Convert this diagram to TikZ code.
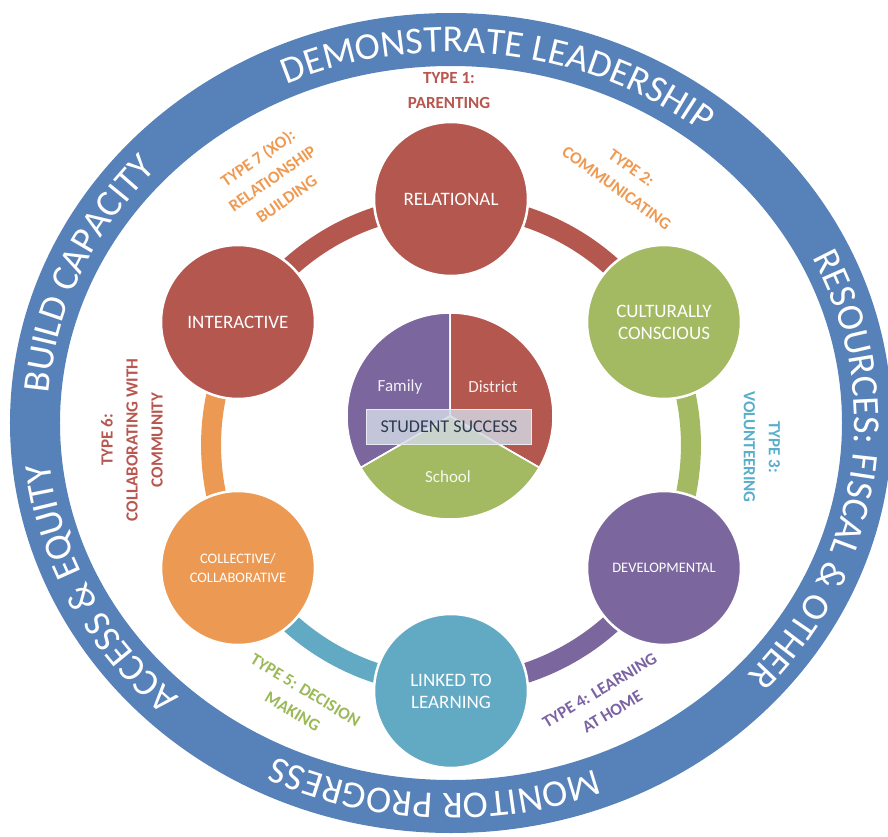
\documentclass[tikz,border=0pt]{standalone}
\usepackage{fontspec}
\setmainfont{Carlito}
\usetikzlibrary{decorations.text}
\pgfdeclarelayer{bg}
\pgfsetlayers{bg,main}
\definecolor{ringblue}{HTML}{5781B9}
\definecolor{cred}{HTML}{B3574F}
\definecolor{cgreen}{HTML}{A3B962}
\definecolor{cpurple}{HTML}{7B669E}
\definecolor{cteal}{HTML}{62A9C3}
\definecolor{corange}{HTML}{EC9954}
\definecolor{tred}{HTML}{B8564F}
\definecolor{torange}{HTML}{EF9A52}
\definecolor{tteal}{HTML}{58AECB}
\definecolor{tpurple}{HTML}{7A62A3}
\definecolor{tgreen}{HTML}{9BBA57}
\definecolor{boxfill}{HTML}{D3DAE5}
\definecolor{boxline}{HTML}{E8ECF2}
\definecolor{boxtext}{HTML}{2D3A4F}
\newcommand{\dgRing}{\fontsize{38}{40}\selectfont\color{white}}
\newcommand{\dgNode}{\fontsize{19}{22}\selectfont}
\newcommand{\dgSmallNode}{\fontsize{14.5}{19}\selectfont}
\newcommand{\dgType}{\fontsize{17}{25}\selectfont\bfseries}
\newcommand{\dgPie}{\fontsize{17}{20}\selectfont}
\begin{document}
\begin{tikzpicture}[x=1pt,y=1pt,
  ringtext/.style={decorate, decoration={text along path, text align=center, text={|\dgRing|#1}}},
  hexnode/.style={circle, minimum size=154pt, inner sep=0pt, draw=white, line width=2.5pt, text=white, align=center, font=\dgNode},
  band/.style={line width=20pt},
  typelabel/.style={align=center, font=\dgType, inner sep=0pt},
  pielabel/.style={font=\dgPie, text=white, text opacity=0.9, inner sep=0pt},
  slice/.style={draw=white, line width=1.5pt}
]
\useasboundingbox (-451,-413) rectangle (437,423);
\begin{pgfonlayer}{bg}
\fill[white] (-451,-413) rectangle (437,423);
\end{pgfonlayer}

% outer ring
\fill[ringblue, even odd rule] (0,0) ellipse[x radius=441pt, y radius=410pt]
  (0,0) ellipse[x radius=391pt, y radius=357pt];
\path[ringtext={DEMONSTRATE LEADERSHIP}] (132.5:403.5pt and 371pt) arc[start angle=132.5, end angle=32.5, x radius=403.5pt, y radius=371pt];
\path[ringtext={RESOURCES: FISCAL {\&} OTHER}] (42:403.5pt and 371pt) arc[start angle=42, end angle=-58, x radius=403.5pt, y radius=371pt];
\path[ringtext={MONITOR PROGRESS}] (-42.5:403.5pt and 371pt) arc[start angle=-42.5, end angle=-142.5, x radius=403.5pt, y radius=371pt];
\path[ringtext={ACCESS {\&} EQUITY}] (256:403.5pt and 371pt) arc[start angle=256, end angle=156, x radius=403.5pt, y radius=371pt];
\path[ringtext={BUILD CAPACITY}] (207:403.5pt and 371pt) arc[start angle=207, end angle=107, x radius=403.5pt, y radius=371pt];

% hexagon nodes
\node[hexnode, fill=cred] (rel) at (0,224) {RELATIONAL};
\node[hexnode, fill=cgreen] (cult) at (213,101) {CULTURALLY\\CONSCIOUS};
\node[hexnode, fill=cpurple, font=\dgSmallNode] (dev) at (213,-145) {DEVELOPMENTAL};
\node[hexnode, fill=cteal] (link) at (0,-268) {LINKED TO\\LEARNING};
\node[hexnode, fill=corange, font=\dgSmallNode] (coll) at (-213,-145) {COLLECTIVE/\\COLLABORATIVE};
\node[hexnode, fill=cred] (inter) at (-213,101) {INTERACTIVE};

% connecting bands
\begin{pgfonlayer}{bg}
\draw[band, cred] ([shift={(90:-6pt)}]rel.center) arc[start angle=90, delta angle=-60, radius=240pt];
\draw[band, cgreen] ([shift={(30:-6pt)}]cult.center) arc[start angle=30, delta angle=-60, radius=240pt];
\draw[band, cpurple] ([shift={(-30:-6pt)}]dev.center) arc[start angle=-30, delta angle=-60, radius=240pt];
\draw[band, cteal] ([shift={(-90:-6pt)}]link.center) arc[start angle=-90, delta angle=-60, radius=240pt];
\draw[band, corange] ([shift={(-150:-6pt)}]coll.center) arc[start angle=-150, delta angle=-60, radius=240pt];
\draw[band, cred] ([shift={(150:-6pt)}]inter.center) arc[start angle=150, delta angle=-60, radius=240pt];
\end{pgfonlayer}

% central pie
\coordinate (pc) at (-1,7);
\fill[slice, fill=cred] (pc) -- ++(90:103pt) arc[start angle=90, end angle=-30, radius=103pt] -- cycle;
\fill[slice, fill=cgreen] (pc) -- ++(-30:103pt) arc[start angle=-30, end angle=-150, radius=103pt] -- cycle;
\fill[slice, fill=cpurple] (pc) -- ++(90:103pt) arc[start angle=90, end angle=210, radius=103pt] -- cycle;
\draw[slice] (pc) -- ++(90:103pt) (pc) -- ++(-30:103pt) (pc) -- ++(210:103pt);
\node[pielabel] (family) at (-51,36) {Family};
\node[pielabel] (district) at (42,36) {District};
\node[pielabel] (school) at (-3,-54) {School};
\node[minimum width=165pt, minimum height=35pt, inner sep=0pt, fill=boxfill, fill opacity=0.82, draw=boxline, line width=1pt, text opacity=1, text=boxtext, font=\fontsize{18}{20}\selectfont] (succ) at (-2,-4) {STUDENT SUCCESS};

% type labels
\node[typelabel, text=tred] (t1) at (-2,332) {TYPE 1:\\PARENTING};
\node[typelabel, text=torange, rotate=-36] (t2) at (173,245) {TYPE 2:\\COMMUNICATING};
\node[typelabel, text=tteal, rotate=-90] (t3) at (311,-24) {TYPE 3:\\VOLUNTEERING};
\node[typelabel, text=tpurple, rotate=31] (t4) at (155,-278) {TYPE 4: LEARNING\\AT HOME};
\node[typelabel, text=tgreen, rotate=-31] (t5) at (-152,-278) {TYPE 5: DECISION\\MAKING};
\node[typelabel, text=tred, rotate=90] (t6) at (-319,-17) {TYPE 6:\\COLLABORATING WITH\\COMMUNITY};
\node[typelabel, text=torange, rotate=35] (t7) at (-179,245) {TYPE 7 (XO):\\RELATIONSHIP\\BUILDING};
\end{tikzpicture}
\end{document}
